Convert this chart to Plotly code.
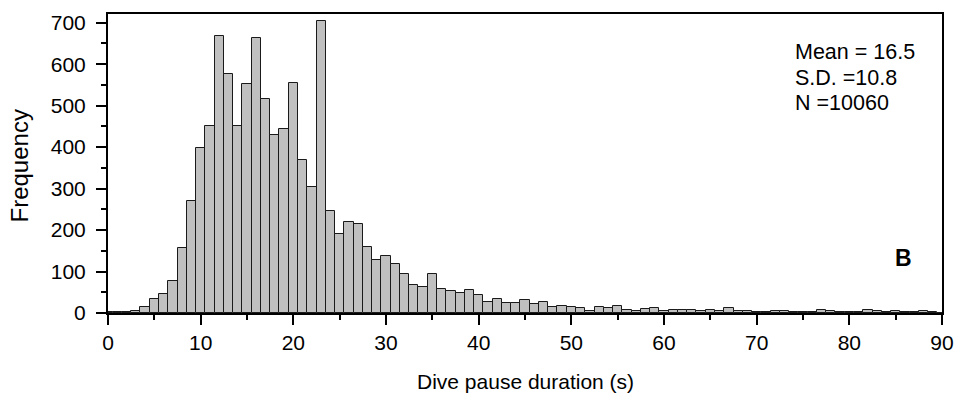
import plotly.graph_objects as go

# Bin centres (s) and frequencies
durations = list(range(0, 91))
counts = [
    2, 2, 2, 5, 15, 34, 46, 76, 157, 270,          # 0-9
    398, 452, 667, 577, 451, 552, 663, 516, 430, 444,  # 10-19
    554, 369, 305, 704, 247, 190, 219, 214, 160, 128,  # 20-29
    137, 118, 93, 67, 62, 93, 59, 53, 48, 56,          # 30-39
    43, 27, 33, 23, 23, 31, 22, 27, 14, 16,            # 40-49
    14, 11, 6, 14, 12, 17, 7, 5, 10, 12,               # 50-59
    5, 7, 7, 7, 5, 7, 5, 11, 5, 5,                     # 60-69
    2, 2, 4, 4, 2, 2, 2, 7, 5, 2,                      # 70-79
    2, 2, 7, 4, 2, 4, 2, 2, 6, 2,                      # 80-89
    1,                                                 # 90
]
stats_lines = ["Mean = 16.5", "S.D. =10.8", "N =10060"]
panel_label = "B"
x_title = "Dive pause duration (s)"
y_title = "Frequency"
x_ticks = list(range(0, 91, 10))
y_ticks = list(range(0, 701, 100))

FONT = "Liberation Sans, Arial, sans-serif"

fig = go.Figure(
    go.Bar(
        x=durations,
        y=counts,
        width=1,
        marker=dict(color="#c0c0c0", line=dict(color="#1a1a1a", width=1)),
    )
)

axis_common = dict(
    showline=True,
    linecolor="black",
    linewidth=2,
    mirror=True,
    ticks="outside",
    tickwidth=2,
    tickcolor="black",
    ticklen=10,
    showgrid=False,
    zeroline=False,
    automargin=False,
    tickfont=dict(family=FONT, size=21, color="black"),
)

fig.update_xaxes(
    range=[0, 90],
    tickvals=x_ticks,
    ticklabelstandoff=0,
    minor=dict(dtick=5, ticks="outside", ticklen=5, tickwidth=2, tickcolor="black"),
    **axis_common,
)
fig.update_yaxes(
    range=[0, 721],
    tickvals=y_ticks,
    ticklabelstandoff=6,
    minor=dict(dtick=50, ticks="outside", ticklen=5, tickwidth=2, tickcolor="black"),
    **axis_common,
)

# axis titles
fig.add_annotation(
    text=x_title, xref="paper", yref="paper", x=0.5, y=0, yshift=-68,
    xanchor="center", yanchor="middle", showarrow=False,
    font=dict(family=FONT, size=21, color="black"),
)
fig.add_annotation(
    text=y_title, xref="paper", yref="paper", x=0, y=0.49, xshift=-89,
    textangle=-90, xanchor="center", yanchor="middle", showarrow=False,
    font=dict(family=FONT, size=24, color="black"),
)

y_pos = [0.874, 0.786, 0.701]
for txt, yp in zip(stats_lines, y_pos):
    fig.add_annotation(
        text=txt, xref="paper", yref="paper", x=0.821, y=yp,
        xanchor="left", yanchor="middle", showarrow=False,
        font=dict(family=FONT, size=21.5, color="black"),
    )
fig.add_annotation(
    text="<b>" + panel_label + "</b>", xref="paper", yref="paper", x=0.954, y=0.184,
    xanchor="center", yanchor="middle", showarrow=False,
    font=dict(family=FONT, size=23, color="black"),
)

fig.update_layout(
    width=960,
    height=396,
    margin=dict(l=108, r=18, t=14, b=83),
    paper_bgcolor="white",
    plot_bgcolor="white",
    bargap=0,
    showlegend=False,
    font=dict(family=FONT, color="black"),
)

fig.write_html("out.html")
